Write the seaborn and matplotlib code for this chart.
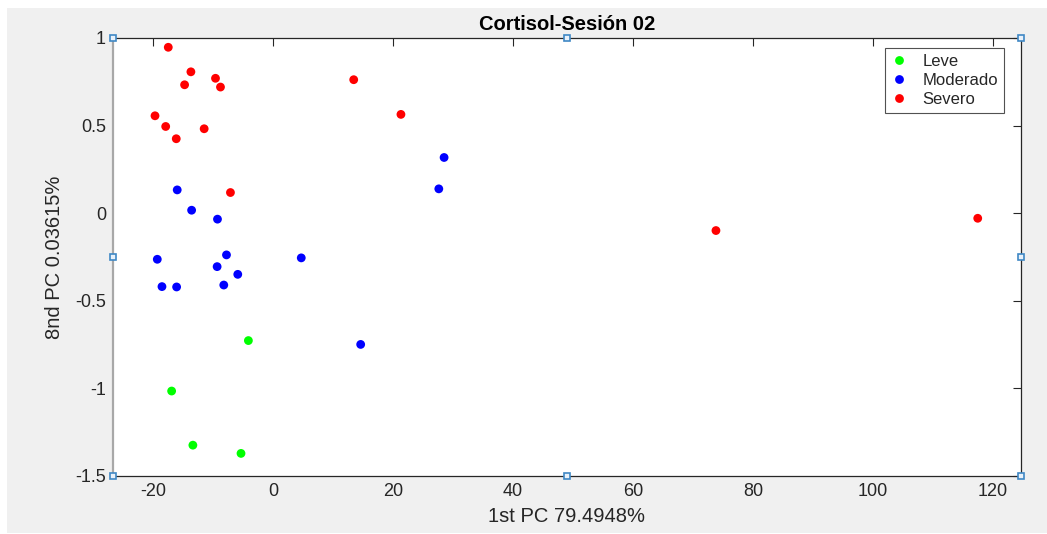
import matplotlib
matplotlib.use("Agg")
import matplotlib.pyplot as plt
from matplotlib.patches import Rectangle
import seaborn as sns
import pandas as pd

# ---- data ----
leve_x = [-4.09, -16.88, -13.34, -5.32]
leve_y = [-0.727, -1.015, -1.324, -1.371]

moderado_x = [-15.95, -13.55, -9.24, -7.74, -19.27, -9.30, -5.86, -18.49, -16.05, -8.19, 4.72, 14.62, 28.52, 27.64]
moderado_y = [0.133, 0.017, -0.034, -0.238, -0.263, -0.305, -0.349, -0.419, -0.421, -0.410, -0.255, -0.749, 0.318, 0.139]

severo_x = [-17.44, -13.67, -14.72, -9.57, -8.74, -19.65, -17.87, -16.11, -11.46, -7.08, 13.46, 21.33, 73.82, 117.44]
severo_y = [0.947, 0.807, 0.733, 0.770, 0.720, 0.556, 0.495, 0.425, 0.482, 0.118, 0.762, 0.564, -0.099, -0.029]

categories = ["Leve", "Moderado", "Severo"]
colors = ["#00ff00", "#0000ff", "#ff0000"]

x_ticks = [-20, 0, 20, 40, 60, 80, 100, 120]
y_ticks = [-1.5, -1, -0.5, 0, 0.5, 1]
y_tick_labels = ["-1.5", "-1", "-0.5", "0", "0.5", "1"]

title = "Cortisol-Sesión 02"
xlabel = "1st PC 79.4948%"
ylabel = "8nd PC 0.03615%"

df = pd.concat([
    pd.DataFrame({"x": leve_x, "y": leve_y, "g": "Leve"}),
    pd.DataFrame({"x": moderado_x, "y": moderado_y, "g": "Moderado"}),
    pd.DataFrame({"x": severo_x, "y": severo_y, "g": "Severo"}),
], ignore_index=True)

sns.set_style("white")
plt.rcParams["font.family"] = ["Liberation Sans", "DejaVu Sans"]

W, H = 1047, 534
fig = plt.figure(figsize=(W / 100, H / 100), dpi=100, facecolor="white")
fig.patches.append(Rectangle((7 / W, 1 / H), 1 - 7 / W, (H - 9) / H, transform=fig.transFigure,
                             facecolor="#f0f0f0", edgecolor="none", zorder=-10))

ax = fig.add_axes([113 / W, 1 - 476 / H, (1021 - 113) / W, (476 - 38) / H])
ax.set_facecolor("white")

sns.scatterplot(data=df, x="x", y="y", hue="g", hue_order=categories,
                palette=dict(zip(categories, colors)), s=40, edgecolor="none",
                linewidth=0, ax=ax, legend=True, zorder=3)

ax.set_xlim(-26.65, 124.65)
ax.set_ylim(-1.5, 1.0)
ax.set_xticks(x_ticks)
ax.set_xticklabels([str(t) for t in x_ticks])
ax.set_yticks(y_ticks)
ax.set_yticklabels(y_tick_labels)

ax.tick_params(direction="in", length=6, width=0.8, colors="#262626", labelsize=13,
               top=True, right=True, pad=5)
ax.tick_params(axis="both", labelcolor="#262626")

for side in ["top", "right", "bottom"]:
    ax.spines[side].set_color("#262626")
    ax.spines[side].set_linewidth(0.9)
ax.spines["left"].set_color("#a8a8a8")
ax.spines["left"].set_linewidth(1.6)

ax.set_title(title, fontsize=14.5, fontweight="bold", color="#000000", pad=6)
ax.set_xlabel(xlabel, fontsize=14.5, color="#262626", labelpad=5)
ax.set_ylabel(ylabel, fontsize=14.5, color="#262626", labelpad=8)

leg = ax.legend(loc="upper right", fontsize=12, frameon=True, fancybox=False,
                bbox_to_anchor=(0.9813, 0.977), borderaxespad=0, handletextpad=0.9,
                handlelength=1.0, labelspacing=0.25, borderpad=0.35, markerscale=1.0)
leg.get_frame().set_edgecolor("#262626")
leg.get_frame().set_linewidth(0.8)
for t in leg.get_texts():
    t.set_color("#262626")

# selection handles (decoration at axes fractions)
hx = [0, 0.5, 1, 0, 1, 0, 0.5, 1]
hy = [0, 0, 0, 0.5, 0.5, 1, 1, 1]
ax.plot(hx, hy, linestyle="none", marker="s", markersize=4.5, markerfacecolor="#e8f1fa",
        markeredgecolor="#3f88c5", markeredgewidth=1.2, transform=ax.transAxes,
        clip_on=False, zorder=10)

fig.savefig("out.png", dpi=100, facecolor=fig.get_facecolor())
